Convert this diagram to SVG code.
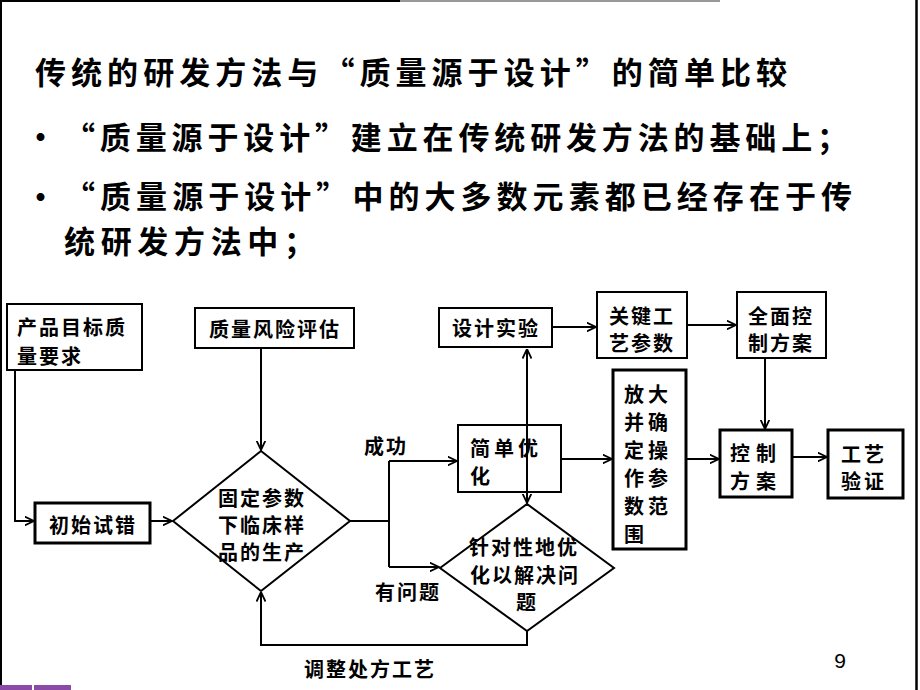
<svg xmlns="http://www.w3.org/2000/svg" width="920" height="690" viewBox="0 0 920 690">
<defs>
<style>
.t{font-family:"Noto Sans CJK SC","Noto Sans",sans-serif;font-weight:bold;fill:#000;dominant-baseline:central}
.h{font-size:31px}
.n{font-size:20px;font-weight:bold;letter-spacing:2px}
.box{fill:#fff;stroke:#000;stroke-width:2}
.thick{stroke-width:3}
.ln{fill:none;stroke:#000;stroke-width:2}
.num{font-family:"Liberation Sans",Arial,sans-serif;font-size:21px;fill:#000;dominant-baseline:central}
</style>
<marker id="ar" viewBox="0 0 10 10" refX="9.5" refY="5" markerWidth="10" markerHeight="10" markerUnits="userSpaceOnUse" orient="auto-start-reverse">
<path d="M0,0.5 L9.5,5 L0,9.5" fill="none" stroke="#000" stroke-width="1.8"/>
</marker>
</defs>
<rect width="920" height="690" fill="#fff"/>
<!-- slide frame -->
<g id="frame">
<line x1="1" y1="0" x2="1" y2="690" stroke="#000" stroke-width="2"/>
<line x1="0" y1="1" x2="400" y2="1" stroke="#000" stroke-width="2"/>
<line x1="400" y1="1" x2="720" y2="1" stroke="#333" stroke-width="1"/>
<line x1="916.5" y1="0" x2="916.5" y2="690" stroke="#000" stroke-width="2.5"/>
<rect x="0" y="685" width="32" height="5" fill="#8a4aa8"/>
<rect x="34" y="685" width="37" height="5" fill="#8a4aa8"/>
</g>
<!-- heading texts -->
<g id="heading">
<text class="t h" x="35" y="70" textLength="752" lengthAdjust="spacing">传统的研发方法与“质量源于设计”的简单比较</text>
<text class="t h" x="25" y="134">•</text>
<text class="t h" x="64" y="135" textLength="784" lengthAdjust="spacing">“质量源于设计”建立在传统研发方法的基础上；</text>
<text class="t h" x="25" y="194">•</text>
<text class="t h" x="64" y="194" textLength="788" lengthAdjust="spacing">“质量源于设计”中的大多数元素都已经存在于传</text>
<text class="t h" x="64" y="239" textLength="251" lengthAdjust="spacing">统研发方法中；</text>
</g>
<!-- connectors -->
<g id="connectors">
<path class="ln" d="M15,370 V521 H34" marker-end="url(#ar)"/>
<path class="ln" d="M261,348 V450" marker-end="url(#ar)"/>
<path class="ln" d="M150,521 H172" marker-end="url(#ar)"/>
<path class="ln" d="M350,521 H389"/>
<path class="ln" d="M389,461 V567"/>
<path class="ln" d="M389,461 H457" marker-end="url(#ar)"/>
<path class="ln" d="M389,567 H439" marker-end="url(#ar)"/>
<path class="ln" d="M527,349 V503" marker-start="url(#ar)" marker-end="url(#ar)"/>
<path class="ln" d="M552,327 H596" marker-end="url(#ar)"/>
<path class="ln" d="M687,325 H736" marker-end="url(#ar)"/>
<path class="ln" d="M765,358 V429" marker-end="url(#ar)"/>
<path class="ln" d="M561,459 H612" marker-end="url(#ar)"/>
<path class="ln" d="M686,459 H719" marker-end="url(#ar)"/>
<path class="ln" d="M792,457 H827" marker-end="url(#ar)"/>
<path class="ln" d="M527,631 V645 H261 V592" marker-end="url(#ar)"/>
<text class="t n" x="386" y="445" text-anchor="middle">成功</text>
<text class="t n" x="408" y="591" text-anchor="middle">有问题</text>
<text class="t n" x="370" y="668" text-anchor="middle">调整处方工艺</text>
</g>
<g id="n_target">
<rect class="box" x="7" y="304" width="135" height="66"/>
<text class="t n" x="17" y="326">产品目标质</text>
<text class="t n" x="17" y="355">量要求</text>
</g>
<g id="n_risk">
<rect class="box" x="195" y="308" width="159" height="40"/>
<text class="t n" x="275" y="328" text-anchor="middle">质量风险评估</text>
</g>
<g id="n_doe">
<rect class="box" x="439" y="308" width="113" height="39"/>
<text class="t n" x="496" y="327" text-anchor="middle">设计实验</text>
</g>
<g id="n_cpp">
<rect class="box" x="597" y="292" width="90" height="66"/>
<text class="t n" x="609" y="315">关键工</text>
<text class="t n" x="609" y="342">艺参数</text>
</g>
<g id="n_fullctrl">
<rect class="box" x="737" y="292" width="89" height="66"/>
<text class="t n" x="748" y="315">全面控</text>
<text class="t n" x="748" y="342">制方案</text>
</g>
<g id="n_trial">
<rect class="box thick" x="35" y="503" width="115" height="40"/>
<text class="t n" x="93" y="524" text-anchor="middle">初始试错</text>
</g>
<g id="n_fixed">
<polygon class="box" points="173,521 261,451 350,521 261,591"/>
<text class="t n" x="262" y="497" text-anchor="middle">固定参数</text>
<text class="t n" x="262" y="524" text-anchor="middle">下临床样</text>
<text class="t n" x="262" y="551" text-anchor="middle">品的生产</text>
</g>
<g id="n_simple">
<rect class="box" x="458" y="425" width="103" height="67"/>
<text class="t n" x="470" y="447" style="letter-spacing:4px">简单优</text>
<text class="t n" x="470" y="475">化</text>
<line x1="527" y1="425" x2="527" y2="492" stroke="#000" stroke-width="2"/>
</g>
<g id="n_targeted">
<polygon class="box" points="440,568 527,504 614,568 527,631"/>
<text class="t n" x="524" y="546" text-anchor="middle">针对性地优</text>
<text class="t n" x="525" y="574" text-anchor="middle">化以解决问</text>
<text class="t n" x="527" y="601" text-anchor="middle">题</text>
</g>
<g id="n_scaleup">
<rect class="box thick" x="613" y="370" width="73" height="179"/>
<text class="t n" x="624" y="393" style="letter-spacing:4px">放大</text>
<text class="t n" x="624" y="421" style="letter-spacing:4px">并确</text>
<text class="t n" x="624" y="449" style="letter-spacing:4px">定操</text>
<text class="t n" x="624" y="477" style="letter-spacing:4px">作参</text>
<text class="t n" x="624" y="505" style="letter-spacing:4px">数范</text>
<text class="t n" x="624" y="533" style="letter-spacing:4px">围</text>
</g>
<g id="n_ctrl">
<rect class="box thick" x="720" y="430" width="72" height="67"/>
<text class="t n" x="730" y="452" style="letter-spacing:6px">控制</text>
<text class="t n" x="730" y="480" style="letter-spacing:6px">方案</text>
</g>
<g id="n_valid">
<rect class="box thick" x="828" y="430" width="75" height="68"/>
<text class="t n" x="841" y="453" style="letter-spacing:3px">工艺</text>
<text class="t n" x="841" y="480" style="letter-spacing:3px">验证</text>
</g>
<text class="num" x="840" y="660" text-anchor="middle">9</text>
</svg>
